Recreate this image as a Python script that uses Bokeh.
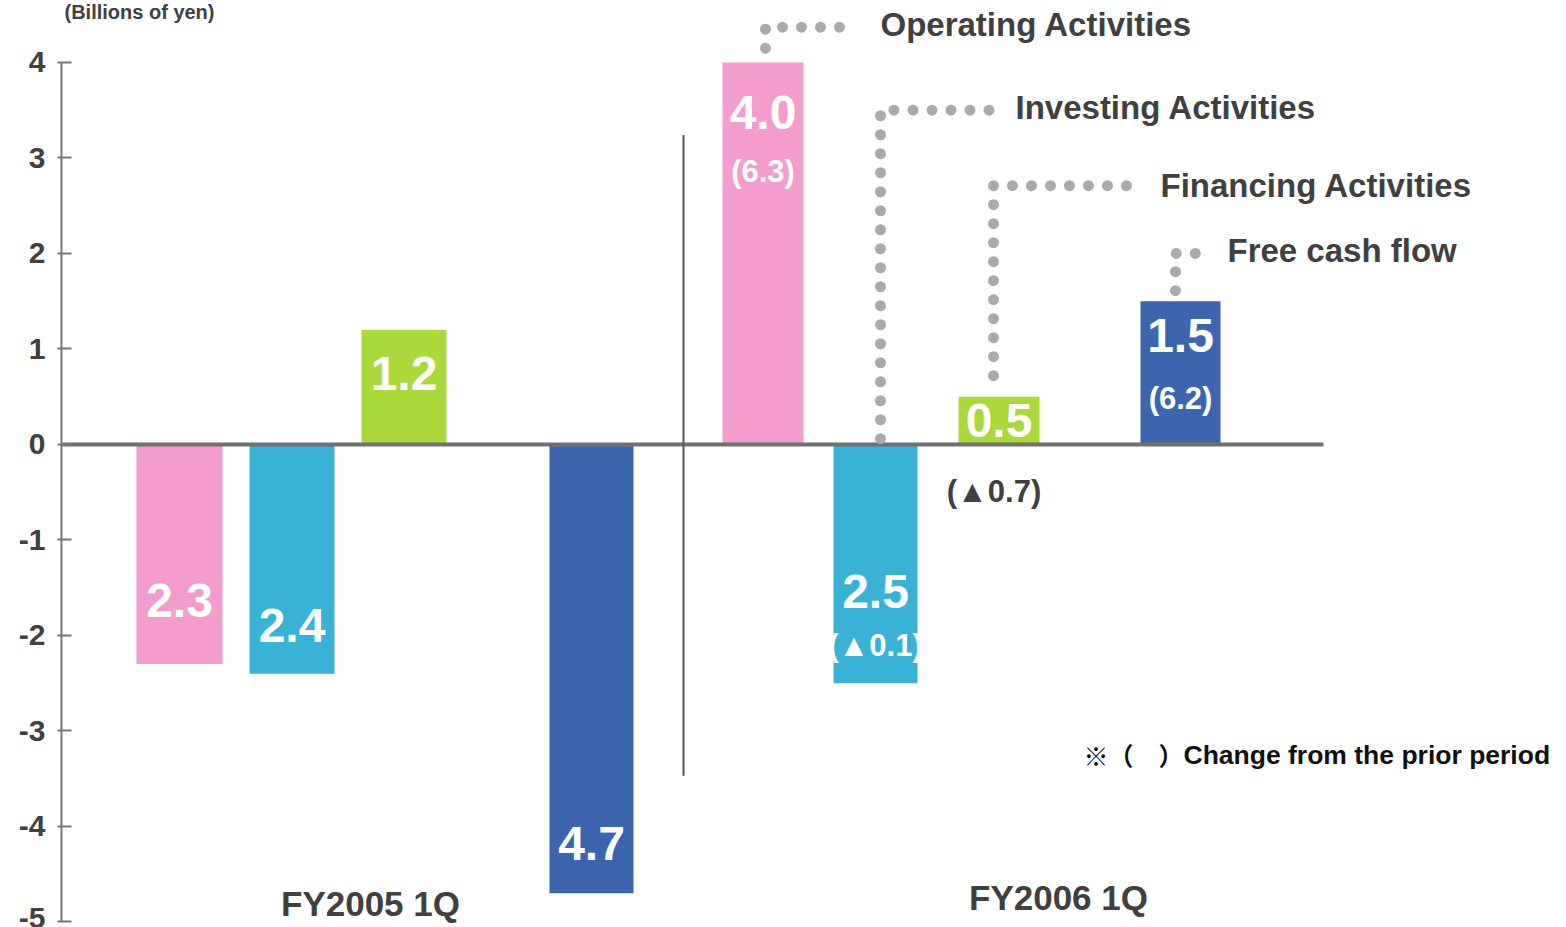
from bokeh.plotting import figure
from bokeh.models import ColumnDataSource, LinearAxis, FixedTicker, Range1d, PrintfTickFormatter
from bokeh.core.properties import value
from bokeh.embed import file_html
from bokeh.resources import INLINE

# ---------------- data ----------------
periods = ["FY2005 1Q", "FY2006 1Q"]
series = ["Operating Activities", "Investing Activities", "Financing Activities", "Free cash flow"]
operating = [-2.3, 4.0]
investing = [-2.4, -2.5]
financing = [1.2, 0.5]
free_cf = [-4.7, 1.5]
change_fy2006 = ["(6.3)", "(▲0.1)", "(▲0.7)", "(6.2)"]
y_ticks = [-5, -4, -3, -2, -1, 0, 1, 2, 3, 4]
axis_title = "(Billions of yen)"
note_mark = "※（　）"
note_text = "Change from the prior period"

# ---------------- layout / style ----------------
colors = ["#F29DCE", "#3AB2D5", "#A9D93B", "#3D65AD"]
# x-position (axis units) of each series' bar within each period
bar_x = [[1.18, 2.305, 3.425, 5.30], [7.015, 8.14, 9.375, 11.19]]
bar_w = [[0.86, 0.85, 0.85, 0.84], [0.81, 0.84, 0.81, 0.80]]
value_label_y = [[-1.63, -1.90, 0.74, -4.18], [3.48, -1.54, 0.25, 1.14]]
change_label_y = [2.86, -2.10, -0.49, 0.48]
change_label_x_shift = [0.0, 0.0, -0.05, 0.0]
change_color = ["white", "white", "#404040", "white"]
period_label_xy = [(3.09, -4.81), (9.97, -4.74)]

FONT = value("Liberation Sans")
DARK = "#404040"

p = figure(width=1566, height=927, output_backend="svg", toolbar_location=None,
           x_range=Range1d(0, 15.05), y_range=Range1d(-5.058, 4.649),
           x_axis_location=None, y_axis_location=None,
           min_border_left=61, min_border_right=0, min_border_top=0, min_border_bottom=0)
p.outline_line_color = None
p.xgrid.visible = False
p.ygrid.visible = False
p.background_fill_color = "white"
p.border_fill_color = "white"

yaxis = LinearAxis(bounds=(-5, 4), ticker=FixedTicker(ticks=y_ticks),
                   formatter=PrintfTickFormatter(format="%d"))
yaxis.axis_line_color = "#777777"
yaxis.axis_line_width = 2
yaxis.major_tick_line_color = "#777777"
yaxis.major_tick_line_width = 2
yaxis.major_tick_in = 10
yaxis.major_tick_out = 4
yaxis.minor_tick_line_color = None
yaxis.major_label_text_font = "Liberation Sans"
yaxis.major_label_text_font_style = "bold"
yaxis.major_label_text_font_size = "30px"
yaxis.major_label_text_color = DARK
yaxis.major_label_standoff = 12
p.add_layout(yaxis, "left")

values = [operating, investing, financing, free_cf]

# bars
bx, bw, btop, bcol = [], [], [], []
lx, ly, ltxt = [], [], []
for gi in range(len(periods)):
    for si in range(len(series)):
        v = values[si][gi]
        bx.append(bar_x[gi][si]); bw.append(bar_w[gi][si]); btop.append(v); bcol.append(colors[si])
        lx.append(bar_x[gi][si]); ly.append(value_label_y[gi][si]); ltxt.append(f"{abs(v):.1f}")
bars = ColumnDataSource(dict(x=bx, w=bw, top=btop, color=bcol))
p.vbar(x="x", width="w", top="top", bottom=0, fill_color="color", line_color=None, source=bars)

# zero line
p.segment(x0=[0], y0=[0], x1=[12.62], y1=[0], line_color="#707070", line_width=4)

# separator between periods
p.segment(x0=[6.22], y0=[3.24], x1=[6.22], y1=[-3.47], line_color="#555555", line_width=2)

# value labels
labels = ColumnDataSource(dict(x=lx, y=ly, t=ltxt))
p.text(x="x", y="y", text="t", source=labels, text_font=FONT, text_font_style="bold",
       text_font_size="48px", text_color="white", text_align="center", text_baseline="middle")

# change labels for FY2006
cx = [bar_x[1][i] + change_label_x_shift[i] for i in range(4)]
cs = ColumnDataSource(dict(x=cx, y=change_label_y, t=change_fy2006, c=change_color))
p.text(x="x", y="y", text="t", color="c", source=cs, text_font=FONT, text_font_style="bold",
       text_font_size="31px", text_align="center", text_baseline="middle")

# legend connectors (dotted) and names
conn = [
    ([7.04, 7.04, 7.95], [4.15, 4.37, 4.37]),
    ([8.19, 8.19, 9.31], [0.06, 3.50, 3.50]),
    ([9.32, 9.32, 10.79], [0.72, 2.71, 2.71]),
    ([11.14, 11.14, 11.47], [1.61, 2.00, 2.00]),
]
for xs, ys in conn:
    p.line(xs, ys, line_color="#AAAAAA", line_width=11, line_cap="round", line_dash="0 19")
legend_xy = [(8.19, 4.40), (9.54, 3.53), (10.99, 2.71), (11.66, 2.03)]
p.text(x=[a for a, b in legend_xy], y=[b for a, b in legend_xy], text=series,
       text_font=FONT, text_font_style="bold", text_font_size="33px", text_color=DARK,
       text_align="left", text_baseline="middle")

# period labels
p.text(x=[a for a, b in period_label_xy], y=[b for a, b in period_label_xy], text=periods,
       text_font=FONT, text_font_style="bold", text_font_size="35px", text_color=DARK,
       text_align="center", text_baseline="middle")

# note
p.text(x=[10.22], y=[-3.25], text=[note_mark], text_font=value("Noto Sans CJK JP"),
       text_font_style="bold", text_font_size="25px", text_color="#111111",
       text_align="left", text_baseline="middle")
p.text(x=[11.22], y=[-3.25], text=[note_text], text_font=FONT, text_font_style="bold",
       text_font_size="26.5px", text_color="#111111", text_align="left", text_baseline="middle")

# axis title (top-left corner)
p.text(x=[0.03], y=[4.645], text=[axis_title], text_font=FONT, text_font_style="bold",
       text_font_size="20px", text_color=DARK, text_align="left", text_baseline="top")

open("out.html", "w").write(file_html(p, INLINE))
